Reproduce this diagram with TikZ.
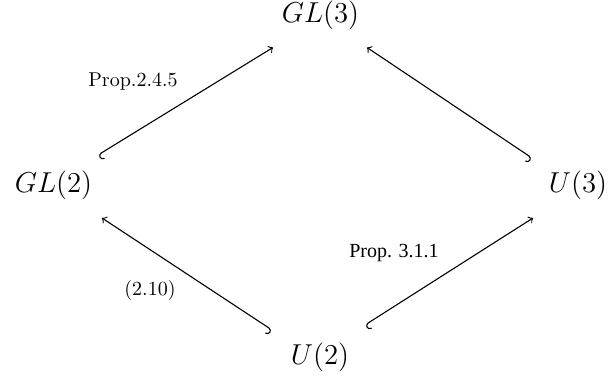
\documentclass[tikz,border=0pt]{standalone}
\usepackage{fontspec}
\newfontfamily\timesfont{Liberation Serif}
\usetikzlibrary{calc,arrows}
\begin{document}
\begin{tikzpicture}[x=0.5pt,y=-0.5pt,
  obj/.style={font=\fontsize{15}{18}\selectfont, inner sep=0pt},
  lbl/.style={font=\normalsize, inner sep=0pt},
  hkr/.style={right hook->, line width=0.55pt},
  hkl/.style={left hook->, line width=0.55pt}]
\useasboundingbox (0,0) rectangle (610,376);
\node[obj] (gl3) at (320.5,15.5) {$GL(3)$};
\node[obj] (gl2) at (53.5,185) {$GL(2)$};
\node[obj] (u3) at (578,185) {$U(3)$};
\node[obj] (u2) at (320,357) {$U(2)$};
\node[lbl] (l1) at (133,82) {Prop.2.4.5};
\node[lbl] (l2) at (394,253) {\timesfont Prop. 3.1.1};
\node[lbl] (l3) at (150,290) {$(2.10)$};
\draw[hkl] ($(gl2)+(44.5,-30)$) -- ($(gl3)+(-47.5,32)$);
\draw[hkr] ($(u3)+(-46,-27)$) -- ($(gl3)+(46.5,32)$);
\draw[hkr] ($(u2)+(-48,-27)$) -- ($(gl2)+(48.5,33)$);
\draw[hkl] ($(u2)+(45,-32)$) -- ($(u3)+(-45,33)$);
\end{tikzpicture}
\end{document}
